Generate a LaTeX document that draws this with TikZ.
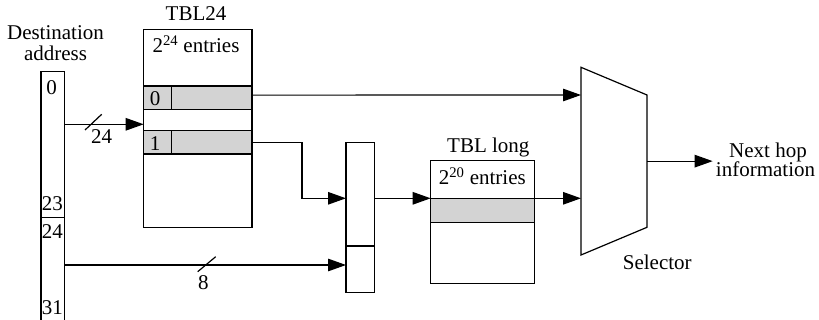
\documentclass[tikz,border=0pt]{standalone}
\usepackage{fontspec}
\setmainfont{Liberation Serif}
\usetikzlibrary{arrows.meta,calc}
\definecolor{rowgray}{HTML}{D3D3D3}
\begin{document}
\begin{tikzpicture}[x=1pt,y=-1pt,
  line width=1.2pt,
  box/.style={draw,inner sep=0pt,outer sep=0pt,anchor=north west},
  graybox/.style={box,fill=rowgray},
  lbl/.style={inner sep=0pt,anchor=base,font=\fontsize{21}{21}\selectfont},
  arr/.style={-{Triangle[length=18pt,width=12.5pt]}},
]
\useasboundingbox (0,0) rectangle (819,320);
% destination address column
\node[box,minimum width=23.3pt,minimum height=145.8pt] (da) at (41,71.7) {};
\node[box,minimum width=23.3pt,minimum height=110pt] (dalow) at (41,217.5) {};
\node[lbl] (dest1) at (55.5,39.3) {Destination};
\node[lbl] (dest2) at (55.5,61) {address};
\node[lbl] (b0) at (51.7,95) {0};
\node[lbl] (b23) at (52.3,210.7) {23};
\node[lbl] (b24) at (52.3,238.3) {24};
\node[lbl] (b31) at (52.3,314) {31};
% TBL24
\node[box,minimum width=108.3pt,minimum height=198.4pt] (tbl) at (143.7,29.3) {};
\node[lbl] (tbllbl) at (196,20.7) {TBL24};
\node[lbl] (tblent) at (196,53) {2\textsuperscript{24} entries};
\node[graybox,minimum width=27.6pt,minimum height=23.3pt] (row0k) at (143.7,86) {};
\node[graybox,minimum width=80.7pt,minimum height=23.3pt] (row0v) at (171.3,86) {};
\node[graybox,minimum width=27.6pt,minimum height=23.3pt] (row1k) at (143.7,130.7) {};
\node[graybox,minimum width=80.7pt,minimum height=23.3pt] (row1v) at (171.3,130.7) {};
\node[lbl] (r0) at (155,106) {0};
\node[lbl] (r1) at (155,150.7) {1};
% concatenation box
\node[box,minimum width=28.7pt,minimum height=103.3pt] (catA) at (346,142.7) {};
\node[box,minimum width=28.7pt,minimum height=46.7pt] (catB) at (346,246) {};
% TBL long
\node[box,minimum width=103.6pt,minimum height=122.6pt] (tbll) at (430.7,160.7) {};
\node[graybox,minimum width=103.6pt,minimum height=24pt] (lrow) at (430.7,198.3) {};
\node[lbl] (tbllonglbl) at (488.3,152.7) {TBL long};
\node[lbl] (tbllongent) at (482.3,185) {2\textsuperscript{20} entries};
% selector
\coordinate (s1) at (581,67.3);
\coordinate (s2) at (647,95);
\coordinate (s3) at (647,227.3);
\coordinate (s4) at (581,255);
\draw (s1) -- (s2) -- (s3) -- (s4) -- cycle;
\node[lbl] (sellbl) at (657.3,269.3) {Selector};
\coordinate (selin1) at (581,95);
\coordinate (selin2) at (581,198.3);
\coordinate (selout) at (647,161.15);
\coordinate (nhin) at (712.7,161.15);
\node[lbl] (nh1) at (768,157.7) {Next hop};
\node[lbl] (nh2) at (765.5,176.7) {information};
% connectors
\coordinate (da24) at (64.3,124.3);
\draw[arr] (da24) -- (da24 -| tbl.west);
\draw (85,130) -- (101.7,114.3);
\node[lbl] (n24) at (101.7,143.3) {24};
\draw[arr] ([yshift=2.5pt]row0v.east) -- (selin1);
\coordinate (catin) at (346,198.3);
\draw[arr] (row1v.east) -- ++(50,0) |- (catin);
\coordinate (dab) at (64.3,265);
\draw[arr] (dab) -- (dab -| catB.west);
\draw (197.7,271.7) -- (215.7,256.7);
\node[lbl] (n8) at (203.3,290) {8};
\draw[arr] (catin -| catA.east) -- (lrow.north west);
\draw[arr] (lrow.north east) -- (selin2);
\draw[arr] (selout) -- (nhin);
\end{tikzpicture}
\end{document}
